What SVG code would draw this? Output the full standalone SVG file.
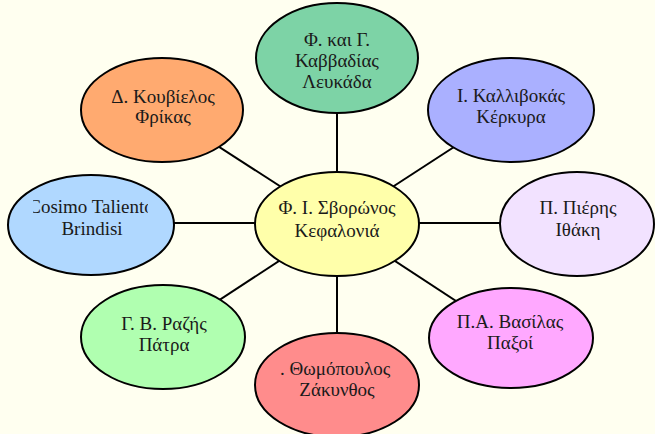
<svg xmlns="http://www.w3.org/2000/svg" width="655" height="434" viewBox="0 0 655 434">
<style>
.n ellipse{stroke:#000;stroke-width:2}
.n text{font-family:'Liberation Serif','Times New Roman','DejaVu Serif',serif;font-size:19px;fill:#1a1a1a;text-anchor:middle}
#edges line{stroke:#000;stroke-width:2}
</style>
<defs>
<clipPath id="cL"><rect x="33" y="190" width="115" height="30"/></clipPath>
<clipPath id="cB"><rect x="279" y="355" width="118" height="28"/></clipPath>
</defs>
<rect width="655" height="434" fill="#fffff0"/>
<g id="edges">
<line x1="337" y1="223" x2="337" y2="58"/>
<line x1="337" y1="223" x2="337" y2="385"/>
<line x1="337" y1="223" x2="91" y2="223"/>
<line x1="337" y1="223" x2="577" y2="223"/>
<line x1="337" y1="223" x2="162" y2="110"/>
<line x1="337" y1="223" x2="511" y2="110"/>
<line x1="337" y1="223" x2="163" y2="337"/>
<line x1="337" y1="223" x2="511" y2="337"/>
</g>
<g id="center" class="n"><ellipse cx="337" cy="224" rx="82" ry="52" fill="#ffffaa"/>
<text x="337" y="214">Φ. Ι. Σβορώνος</text><text x="337" y="237">Κεφαλονιά</text></g>
<g id="kavvadias" class="n"><ellipse cx="337" cy="58" rx="81" ry="55" fill="#7dd3a6"/>
<text x="337" y="46">Φ. και Γ.</text><text x="337" y="67">Καββαδίας</text><text x="337" y="88">Λευκάδα</text></g>
<g id="kallivokas" class="n"><ellipse cx="511" cy="110" rx="83" ry="52" fill="#aab0ff"/>
<text x="511" y="102">Ι. Καλλιβοκάς</text><text x="511" y="123">Κέρκυρα</text></g>
<g id="pieris" class="n"><ellipse cx="577" cy="224" rx="77" ry="52" fill="#f2e2ff"/>
<text x="578" y="214">Π. Πιέρης</text><text x="578" y="236">Ιθάκη</text></g>
<g id="vasilas" class="n"><ellipse cx="511" cy="338" rx="82" ry="50" fill="#ffa8ff"/>
<text x="510" y="328">Π.Α. Βασίλας</text><text x="510" y="349">Παξοί</text></g>
<g id="thomopoulos" class="n"><ellipse cx="337" cy="385" rx="82" ry="52" fill="#ff8c8c"/>
<g clip-path="url(#cB)"><text x="280" y="375" style="text-anchor:start">. Θωμόπουλος</text></g><text x="337" y="396">Ζάκυνθος</text></g>
<g id="razis" class="n"><ellipse cx="163" cy="337" rx="82" ry="52" fill="#b0ffb0"/>
<text x="164" y="330">Γ. Β. Ραζής</text><text x="164" y="351">Πάτρα</text></g>
<g id="taliento" class="n"><ellipse cx="91" cy="225" rx="83" ry="50" fill="#b0d8ff"/>
<g clip-path="url(#cL)"><text x="91" y="213">Cosimo Taliento</text></g><text x="92" y="235">Brindisi</text></g>
<g id="kouvielos" class="n"><ellipse cx="162" cy="110" rx="81" ry="52" fill="#ffaa70"/>
<text x="163" y="103">Δ. Κουβίελος</text><text x="163" y="123">Φρίκας</text></g>
</svg>
